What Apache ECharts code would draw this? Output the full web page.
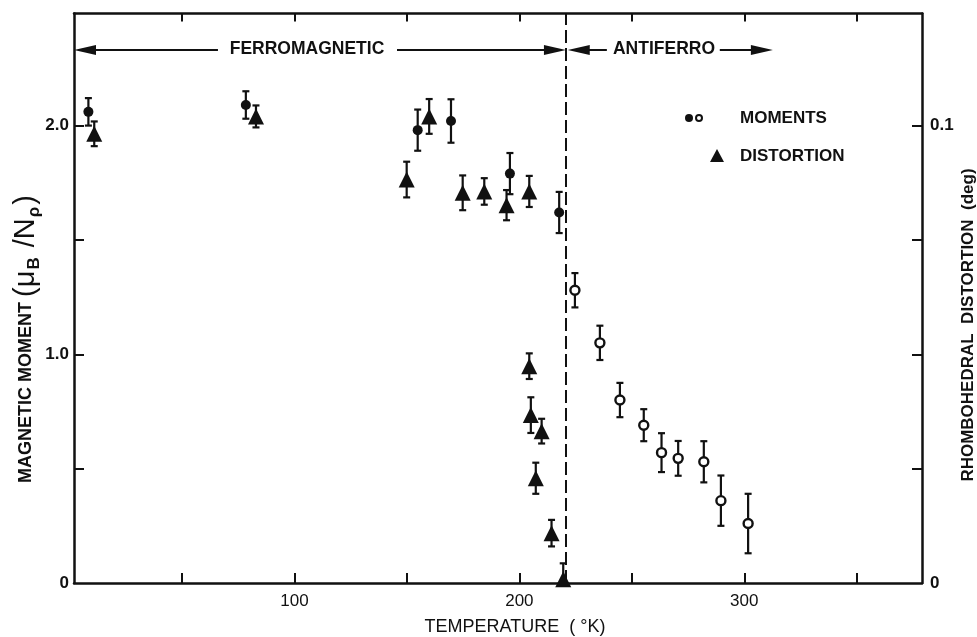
<!DOCTYPE html>
<html>
<head>
<meta charset="utf-8">
<script src="https://cdn.jsdelivr.net/npm/echarts@6/dist/echarts.min.js"></script>
<style>
  html, body { margin: 0; padding: 0; background: #fff; }
  #main { width: 977px; height: 637px; }
</style>
</head>
<body>
<div id="main"></div>
<script>
// 磁矩（铁磁区，实心圆）
const ferroTemp = [8.4, 78.4, 154.8, 169.6, 195.8, 217.7];
const ferroMoment = [2.06, 2.09, 1.98, 2.02, 1.79, 1.62];
const ferroErr = [0.06, 0.06, 0.09, 0.095, 0.09, 0.09];

// 磁矩（反铁磁区，空心圆）
const antiTemp = [224.7, 235.8, 244.7, 255.3, 263.2, 270.6, 282.0, 289.6, 301.7];
const antiMoment = [1.28, 1.05, 0.80, 0.69, 0.57, 0.545, 0.53, 0.36, 0.26];
const antiErr = [0.075, 0.075, 0.075, 0.07, 0.085, 0.076, 0.09, 0.11, 0.13];

// 菱面体畸变（三角形，右轴，单位 deg）
const distTemp = [11.0, 82.9, 149.9, 159.9, 174.8, 184.4, 194.3, 204.4, 204.4, 205.1, 209.9, 207.3, 214.3, 219.5];
const distValue = [0.0982, 0.102, 0.0882, 0.102, 0.0853, 0.0856, 0.0826, 0.0856, 0.0474, 0.0367, 0.0332, 0.0229, 0.0109, 0.0008];
const distErr = [0.0027, 0.0024, 0.0039, 0.0038, 0.0038, 0.0029, 0.0033, 0.0034, 0.0028, 0.0039, 0.0027, 0.0034, 0.0029, 0.0035];

// 刻度
const xTicks = [50, 100, 150, 200, 250, 300, 350];
const xLabels = [100, 200, 300];
const yTicks = [0.5, 1.0, 1.5, 2.0];
const yLabels = [0, 1.0, 2.0];
const y2Ticks = [0.025, 0.05, 0.075, 0.1];
const y2Labels = [0, 0.1];

const transitionT = 220.7; // 相变温度（虚线）
const arrowLevel = 2.33;   // 箭头所在高度（左轴单位）

const FONT = '"Liberation Sans", "DejaVu Sans", sans-serif';
const INK = '#111';

const pair = (t, v) => t.map((x, i) => [x, v[i]]);
const bars = (t, v, e) => t.map((x, i) => [x, Math.max(0, v[i] - e[i]), v[i] + e[i]]);

function errorBar(params, api) {
	const x = api.value(0);
	const top = api.coord([x, api.value(2)]);
	const bot = api.coord([x, api.value(1)]);
	const w = 3.5;
	const st = { stroke: INK, lineWidth: 2.2 };
	return {
		type: 'group',
		children: [
			{ type: 'line', shape: { x1: top[0], y1: top[1], x2: bot[0], y2: bot[1] }, style: st },
			{ type: 'line', shape: { x1: top[0] - w, y1: top[1], x2: top[0] + w, y2: top[1] }, style: st },
			{ type: 'line', shape: { x1: bot[0] - w, y1: bot[1], x2: bot[0] + w, y2: bot[1] }, style: st },
		],
	};
}

const myChart = echarts.init(document.getElementById('main'));

// 坐标轴线（不贴零点）
const axisLine = () => ({ show: true, onZero: false, lineStyle: { color: INK, width: 2.5 } });
const tickStyle = { color: INK, width: 2 };

myChart.setOption({
	animation: false,
	backgroundColor: '#fff',
	grid: { left: 74, right: 55, top: 13.5, bottom: 54 },
	xAxis: [
		{
			type: 'value',
			position: 'bottom',
			min: 2,
			max: 379,
			axisLine: axisLine(),
			axisTick: { inside: true, length: 10, customValues: xTicks, lineStyle: tickStyle },
			axisLabel: {
				customValues: xLabels,
				color: INK,
				fontSize: 17,
				fontFamily: FONT,
				margin: 10,
			},
			splitLine: { show: false },
		},
		{
			type: 'value',
			position: 'top',
			min: 2,
			max: 379,
			axisLine: axisLine(),
			axisTick: { inside: true, length: 8, customValues: xTicks, lineStyle: tickStyle },
			axisLabel: { show: false },
			splitLine: { show: false },
		},
	],
	yAxis: [
		{
			type: 'value',
			position: 'left',
			min: 0,
			max: 2.49,
			axisLine: axisLine(),
			axisTick: { inside: true, length: 10, customValues: yTicks, lineStyle: tickStyle },
			axisLabel: {
				customValues: yLabels,
				formatter: (v) => (v === 0 ? '0' : v.toFixed(1)),
				color: INK,
				fontSize: 17,
				fontWeight: 'bold',
				fontFamily: FONT,
				margin: 5,
			},
			splitLine: { show: false },
		},
		{
			type: 'value',
			position: 'right',
			min: 0,
			max: 0.1245,
			axisLine: axisLine(),
			axisTick: { inside: true, length: 10, customValues: y2Ticks, lineStyle: tickStyle },
			axisLabel: {
				customValues: y2Labels,
				formatter: (v) => (v === 0 ? '0' : '0.1'),
				color: INK,
				fontSize: 17,
				fontWeight: 'bold',
				fontFamily: FONT,
				margin: 8,
			},
			splitLine: { show: false },
		},
	],
	series: [
		// 误差棒
		{
			type: 'custom',
			yAxisIndex: 0,
			renderItem: errorBar,
			encode: { x: 0, y: [1, 2] },
			data: bars(ferroTemp, ferroMoment, ferroErr).concat(bars(antiTemp, antiMoment, antiErr)),
			z: 2,
			silent: true,
		},
		{
			type: 'custom',
			yAxisIndex: 1,
			renderItem: errorBar,
			encode: { x: 0, y: [1, 2] },
			data: bars(distTemp, distValue, distErr),
			z: 2,
			silent: true,
		},
		// 铁磁区磁矩 + 标注线
		{
			name: 'MOMENTS',
			type: 'scatter',
			yAxisIndex: 0,
			symbol: 'circle',
			symbolSize: 10,
			itemStyle: { color: INK, opacity: 1 },
			data: pair(ferroTemp, ferroMoment),
			z: 5,
			markLine: {
				silent: true,
				animation: false,
				label: { show: false },
				symbol: 'none',
				lineStyle: { color: INK, width: 2, type: 'solid', opacity: 1 },
				data: [
					// 相变虚线
					[
						{ coord: [transitionT, 0], symbol: 'none' },
						{ coord: [transitionT, 2.49], symbol: 'none', lineStyle: { type: [13, 5], width: 2 } },
					],
					// ← FERROMAGNETIC
					[
						{ coord: [6.9, arrowLevel], symbol: 'triangle', symbolSize: [10, 22] },
						{ coord: [66, arrowLevel], symbol: 'none' },
					],
					// FERROMAGNETIC →|
					[
						{ coord: [145.6, arrowLevel], symbol: 'none' },
						{ coord: [215.8, arrowLevel], symbol: 'triangle', symbolSize: [10, 22] },
					],
					// |← ANTIFERRO
					[
						{ coord: [226.4, arrowLevel], symbol: 'triangle', symbolSize: [10, 22] },
						{ coord: [238.9, arrowLevel], symbol: 'none' },
					],
					// ANTIFERRO →
					[
						{ coord: [289.1, arrowLevel], symbol: 'none' },
						{ coord: [307.8, arrowLevel], symbol: 'triangle', symbolSize: [10, 22] },
					],
				],
			},
		},
		// 反铁磁区磁矩
		{
			type: 'scatter',
			yAxisIndex: 0,
			symbol: 'circle',
			symbolSize: 9,
			itemStyle: { color: '#fff', borderColor: INK, borderWidth: 2.4, opacity: 1 },
			data: pair(antiTemp, antiMoment),
			z: 5,
		},
		// 畸变
		{
			name: 'DISTORTION',
			type: 'scatter',
			yAxisIndex: 1,
			symbol: 'triangle',
			symbolSize: [16, 16],
			itemStyle: { color: INK, opacity: 1 },
			data: pair(distTemp, distValue),
			clip: false,
			z: 5,
		},
	],
	graphic: [
		{
			type: 'text',
			x: 307,
			y: 49,
			style: { text: 'FERROMAGNETIC', font: `bold 17.5px ${FONT}`, fill: INK, align: 'center', verticalAlign: 'middle' },
		},
		{
			type: 'text',
			x: 664,
			y: 49,
			style: { text: 'ANTIFERRO', font: `bold 17.5px ${FONT}`, fill: INK, align: 'center', verticalAlign: 'middle' },
		},
		// 图例
		{ type: 'circle', shape: { cx: 689, cy: 118, r: 4 }, style: { fill: INK } },
		{ type: 'circle', shape: { cx: 699, cy: 118, r: 3 }, style: { fill: '#fff', stroke: INK, lineWidth: 2 } },
		{
			type: 'text',
			x: 740,
			y: 118,
			style: { text: 'MOMENTS', font: `bold 17px ${FONT}`, fill: INK, align: 'left', verticalAlign: 'middle' },
		},
		{ type: 'polygon', shape: { points: [[717, 149], [710, 162], [724, 162]] }, style: { fill: INK } },
		{
			type: 'text',
			x: 740,
			y: 156,
			style: { text: 'DISTORTION', font: `bold 17px ${FONT}`, fill: INK, align: 'left', verticalAlign: 'middle' },
		},
		// 坐标轴标题
		{
			type: 'text',
			x: 515,
			y: 627,
			style: { text: 'TEMPERATURE  ( °K)', font: `18px ${FONT}`, fill: INK, align: 'center', verticalAlign: 'middle' },
		},
		{
			type: 'text',
			x: 26,
			y: 339,
			rotation: Math.PI / 2,
			style: {
				text: '{a|MAGNETIC MOMENT }{p|(}{p|μ}{s|B}{p| /N}{s|ρ}{p|)}',
				fill: INK,
				align: 'center',
				verticalAlign: 'middle',
				rich: {
					a: { font: `bold 18px ${FONT}`, fill: INK, lineHeight: 32 },
					p: { font: `29px ${FONT}`, fill: INK, lineHeight: 32 },
					s: { font: `bold 17px ${FONT}`, fill: INK, lineHeight: 32, padding: [16, 2, 0, 1] },
				},
			},
		},
		{
			type: 'text',
			x: 968,
			y: 325,
			rotation: Math.PI / 2,
			style: {
				text: 'RHOMBOHEDRAL  DISTORTION  (deg)',
				font: `bold 17px ${FONT}`,
				fill: INK,
				align: 'center',
				verticalAlign: 'middle',
			},
		},
	],
});
</script>
</body>
</html>
